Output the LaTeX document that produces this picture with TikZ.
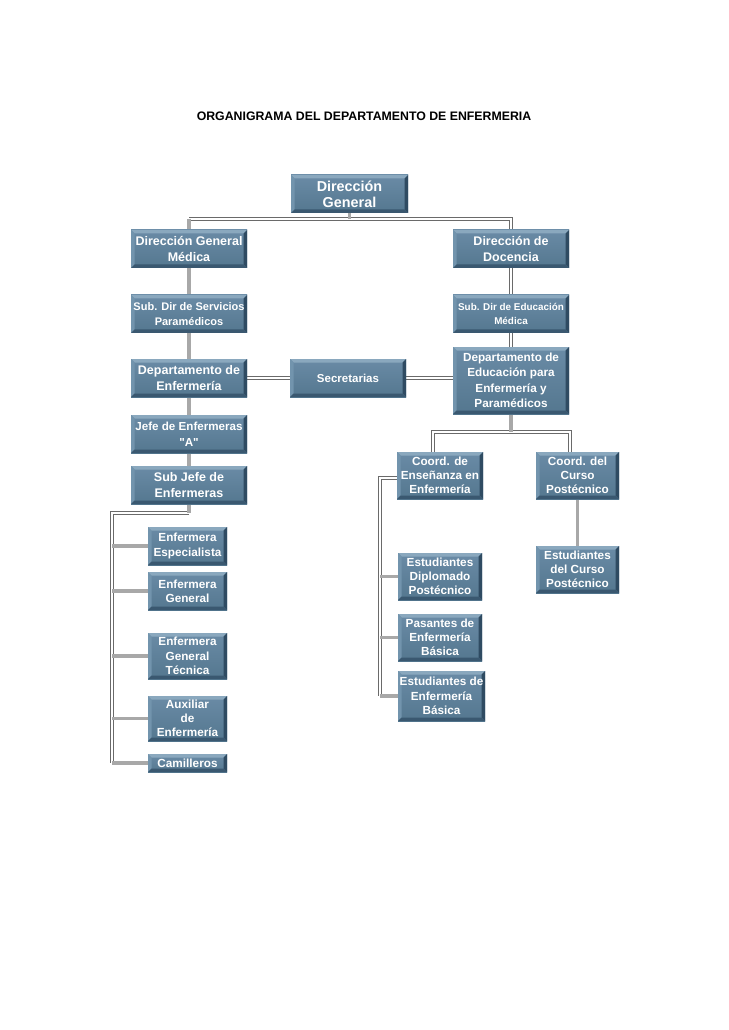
\documentclass[tikz,border=0pt]{standalone}
\usepackage{fontspec}
\setmainfont{Liberation Sans}
\newfontfamily\plainq{Liberation Sans}
\usetikzlibrary{backgrounds,calc}
\definecolor{boxtop}{HTML}{6A8BA6}
\definecolor{boxbot}{HTML}{54778F}
\definecolor{bevdark}{HTML}{2F4B62}
\definecolor{bevbot}{HTML}{3A5870}
\definecolor{bevlight}{HTML}{8AA8BE}
\definecolor{bevleft}{HTML}{7294AD}
\definecolor{glinec}{HTML}{A8A8A8}
\definecolor{dlinec}{HTML}{6A6A6A}
\tikzset{
  box/.style={rectangle, top color=boxtop, bottom color=boxbot, text=white,
    align=center, inner sep=0pt, font=\bfseries\fontsize{9.4}{11.4}\selectfont,
    path picture={
      \path (path picture bounding box.south west) coordinate (bsw)
            (path picture bounding box.north east) coordinate (bne);
      \fill[bevlight] (bsw|-bne) -- (bne) -- ($(bne)+(-2.8pt,-2.8pt)$) -- ($(bsw|-bne)+(2.8pt,-2.8pt)$) -- cycle;
      \fill[bevleft] (bsw) -- (bsw|-bne) -- ($(bsw|-bne)+(2.8pt,-2.8pt)$) -- ($(bsw)+(2.8pt,2.8pt)$) -- cycle;
      \fill[bevdark] (bne) -- (bne|-bsw) -- ($(bne|-bsw)+(-2.8pt,2.8pt)$) -- ($(bne)+(-2.8pt,-2.8pt)$) -- cycle;
      \fill[bevbot] (bsw) -- (bne|-bsw) -- ($(bne|-bsw)+(-2.8pt,2.8pt)$) -- ($(bsw)+(2.8pt,2.8pt)$) -- cycle;
    }},
  bigtext/.style={font=\bfseries\fontsize{10}{12.8}\selectfont},
  gline/.style={draw=glinec, line width=2.6pt},
  dline/.style={draw=dlinec, line width=0.6pt, double=white, double distance=1.8pt},
  title/.style={font=\bfseries\fontsize{9.85}{12}\selectfont}
}
\newcommand{\orgbox}[7][]{\node[box,#1,minimum width={(#4-#2)*0.8pt},minimum height={(#5-#3)*0.8pt}] (#6) at ({(#2+#4)/2},{(#3+#5)/2}) {#7};}
\begin{document}
\begin{tikzpicture}[x=0.8pt,y=-0.8pt]
\useasboundingbox (0,0) rectangle (728,1030);
\node[title] (t) at (364,116) {ORGANIGRAMA DEL DEPARTAMENTO DE ENFERMERIA};
\orgbox[font=\bfseries\fontsize{11.5}{13}\selectfont]{291}{175}{408}{213}{dg}{Dirección\\General}
\orgbox[bigtext]{131}{230}{247}{268}{dgm}{Dirección General\\Médica}
\orgbox[bigtext]{453}{230}{569}{268}{dd}{Dirección de\\Docencia}
\orgbox[font=\bfseries\fontsize{8.8}{12.4}\selectfont]{131}{295}{247}{333}{sds}{Sub. Dir de Servicios\\Paramédicos}
\orgbox[font=\bfseries\fontsize{7.9}{10.8}\selectfont]{453}{295}{569}{333}{sde}{Sub. Dir de Educación\\Médica}
\orgbox[bigtext]{131}{359}{247}{397}{denf}{Departamento de\\Enfermería}
\orgbox[font=\bfseries\fontsize{9.2}{12}\selectfont]{290}{359}{406}{397}{sec}{Secretarias}
\orgbox[font=\bfseries\fontsize{9.4}{12.4}\selectfont]{453}{347}{569}{414}{ded}{Departamento de\\Educación para\\Enfermería y\\Paramédicos}
\orgbox[font=\bfseries\fontsize{9.3}{12.8}\selectfont]{131}{415}{247}{453}{jefe}{Jefe de Enfermeras\\{\plainq"}A{\plainq"}}
\orgbox[bigtext]{131}{466}{247}{504}{subj}{Sub Jefe de\\Enfermeras}
\orgbox{397}{452}{483}{499}{ce}{Coord. de\\Enseñanza en\\Enfermería}
\orgbox{536}{452}{619}{499}{cc}{Coord. del\\Curso\\Postécnico}
\orgbox{536}{546}{619}{593}{ecp}{Estudiantes\\del Curso\\Postécnico}
\orgbox{398}{553}{482}{600}{edp}{Estudiantes\\Diplomado\\Postécnico}
\orgbox{398}{614}{482}{661}{pas}{Pasantes de\\Enfermería\\Básica}
\orgbox{398}{671}{485}{721}{eeb}{Estudiantes de\\Enfermería\\Básica}
\orgbox{148}{527}{227}{565}{ee}{Enfermera\\Especialista}
\orgbox{148}{572}{227}{610}{eg}{Enfermera\\General}
\orgbox{148}{633}{227}{679}{egt}{Enfermera\\General\\Técnica}
\orgbox{148}{696}{227}{741}{aux}{Auxiliar\\de\\Enfermería}
\orgbox{148}{754}{227}{772}{cam}{Camilleros}
\coordinate (busL) at (189,219);
\coordinate (busR) at (511,219);
\coordinate (sjb) at (189,513);
\coordinate (lt) at (112,513);
\coordinate (rb) at (511,432);
\coordinate (cl) at (433,432);
\coordinate (cr) at (570,432);
\coordinate (ct) at (380,478);
\begin{scope}[on background layer]
\fill[white] (0,0) rectangle (728,1030);
\draw[dline] (busL) -- (busR) -- (dd.north);
\draw[gline] (dg.south) -- (dg.south |- busL);
\draw[gline] (busL) -- (dgm.north);
\draw[gline] (dgm.south) -- (sds.north);
\draw[gline] (sds.south) -- (denf.north);
\draw[gline] (denf.south) -- (jefe.north);
\draw[gline] (jefe.south) -- (subj.north);
\draw[dline] (dd.south) -- (sde.north);
\draw[dline] (sde.south) -- (ded.north);
\draw[dline] (denf.east) -- (sec.west);
\draw[dline] (sec.east) -- (sec.east -| ded.west);
\draw[dline] (sjb) -- (lt) -- (lt |- cam.west);
\draw[gline] (subj.south) -- (sjb);
\foreach \n in {ee,eg,egt,aux,cam} \draw[gline] (\n.west -| lt) -- (\n.west);
\draw[dline] (cl |- ce.north) -- (cl) -- (cr) -- (cr |- cc.north);
\draw[gline] (ded.south) -- (rb);
\draw[dline] (ce.east) -- (cc.west);
\draw[dline] (ce.west |- ct) -- (ct) -- (ct |- eeb.west);
\foreach \n in {edp,pas,eeb} \draw[gline] (\n.west -| ct) -- (\n.west);
\draw[gline] (cc.south) -- (ecp.north);
\end{scope}
\end{tikzpicture}
\end{document}
